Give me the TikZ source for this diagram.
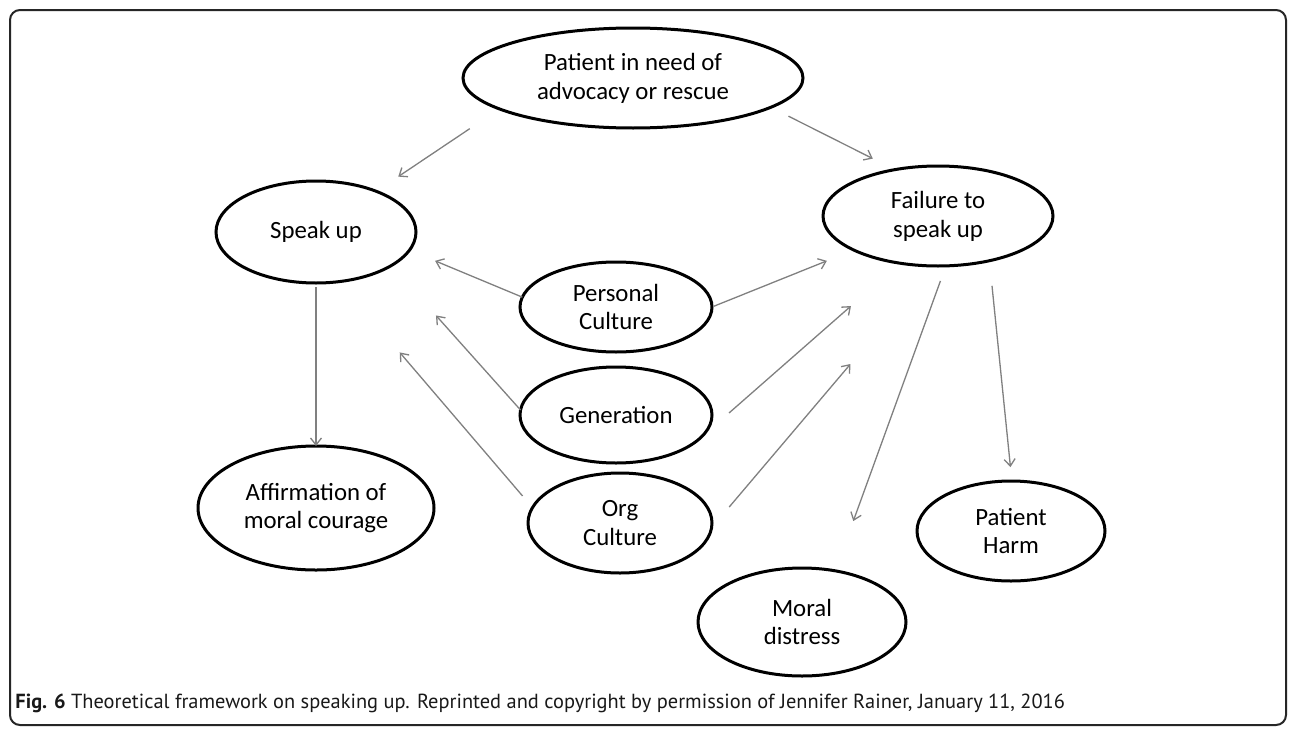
\documentclass[tikz,border=0pt]{standalone}
\usepackage{fontspec}
\setmainfont{Carlito}
\newfontfamily\capfont{PT Sans}
\usetikzlibrary{shapes.geometric,arrows.meta,calc}
\tikzset{
  ell/.style={ellipse, draw=black, line width=1.5pt, inner sep=0pt, outer sep=0pt,
    align=center, font=\fontsize{12.4}{14.4}\selectfont, text=black},
  arr/.style={draw=black!50, line width=0.65pt, -{Straight Barb[length=3.5pt,width=5.5pt]}},
  frame/.style={draw=black!85, line width=1pt, rounded corners=5pt}
}
\begin{document}
\begin{tikzpicture}[x=0.5pt,y=-0.5pt]
\useasboundingbox (0,0) rectangle (1295,728);
\fill[white] (0,0) rectangle (1295,728);
\draw[frame] (10,10) rectangle (1286,725);

\node[ell, minimum width=170pt, minimum height=50pt] (top) at (633,78) {Patient in need of\\advocacy or rescue};
\node[ell, minimum width=100pt, minimum height=51pt] (speak) at (316,232) {Speak up};
\node[ell, minimum width=115pt, minimum height=50pt] (fail) at (938,216) {Failure to\\speak up};
\node[ell, minimum width=96pt, minimum height=45pt] (pers) at (616,307) {Personal\\Culture};
\node[ell, minimum width=96pt, minimum height=48pt] (gen) at (616,415) {Generation};
\node[ell, minimum width=92pt, minimum height=50pt] (org) at (620,523) {Org\\Culture};
\node[ell, minimum width=118pt, minimum height=62pt] (affirm) at (316,508) {Affirmation of\\moral courage};
\node[ell, minimum width=94pt, minimum height=50pt] (harm) at (1011,531) {Patient\\Harm};
\node[ell, minimum width=104pt, minimum height=54pt] (moral) at (802,622) {Moral\\distress};

\draw[arr, shorten <=17.8pt, shorten >=13.2pt] (top.193) -- (speak.34);
\draw[arr, shorten <=9.9pt, shorten >=12.3pt] (top.-12.6) -- (fail.133.5);
\draw[arr, shorten <=2pt] (speak.south) -- (affirm.north);
\draw[arr, shorten >=13.9pt] (pers.174.4) -- (speak.-11);
\draw[arr, shorten <=1pt, shorten >=14.5pt] (pers.0.7) -- (fail.202.6);
\draw[arr, shorten >=33.5pt] (gen.177.8) -- (speak.-24.6);
\draw[arr, shorten >=32.5pt] ($(gen.east)+(17,-2)$) -- (fail.231);
\draw[arr, shorten <=7.65pt, shorten >=46.6pt] (org.170.8) -- (speak.-65.1);
\draw[arr, shorten <=13.6pt, shorten >=64.3pt] (org.-3.6) -- (fail.265.5);
\draw[arr, shorten <=8pt, shorten >=26.5pt] (fail.-81.5) -- (moral.57.3);
\draw[arr, shorten <=12.6pt, shorten >=7pt] (fail.-41.7) -- (harm.89);

\node[anchor=base west, inner sep=0pt, text=black!90, font=\capfont\fontsize{10.2}{12}\selectfont] (cap) at (15,708)
  {\textbf{Fig. 6} Theoretical framework on speaking up. Reprinted and copyright by permission of Jennifer Rainer, January 11, 2016};
\end{tikzpicture}
\end{document}
